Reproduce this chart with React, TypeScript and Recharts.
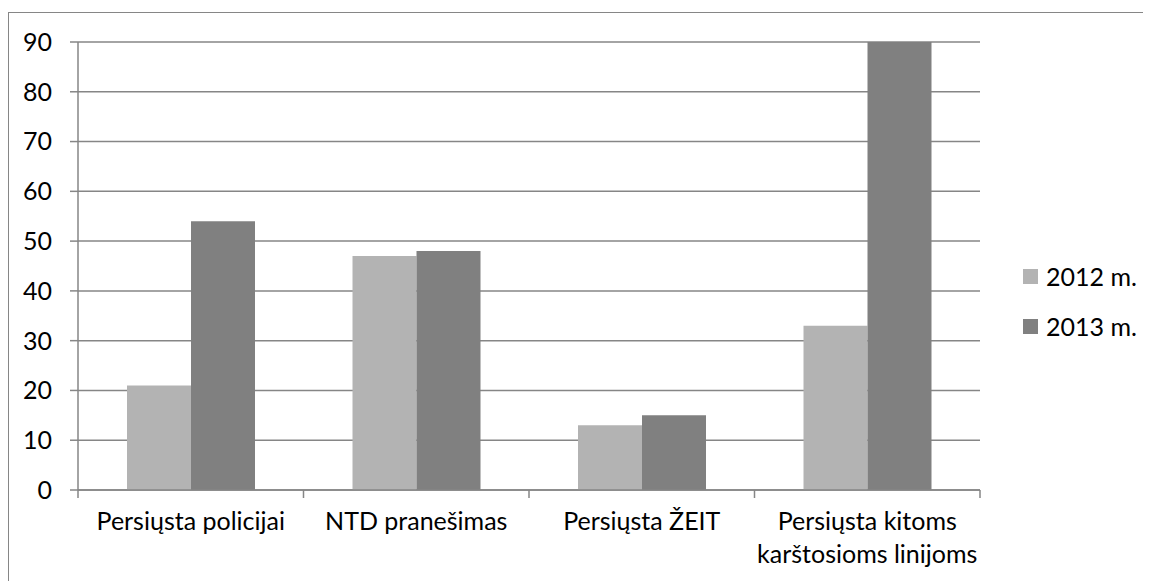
import React from 'react';
import { BarChart, Bar, XAxis, YAxis, CartesianGrid } from 'recharts';

const categories = ['Persiųsta policijai', 'NTD pranešimas', 'Persiųsta ŽEIT', 'Persiųsta kitoms\nkarštosioms linijoms'];
const values2012 = [21, 47, 13, 33];
const values2013 = [54, 48, 15, 90];
const yTicks = [0, 10, 20, 30, 40, 50, 60, 70, 80, 90];
const seriesNames = ['2012 m.', '2013 m.'];

const data = categories.map((name, i) => ({
  name,
  y2012: values2012[i],
  y2013: values2013[i],
}));

const WIDTH = 1142;
const HEIGHT = 568;
const PLOT_LEFT = 69;
const PLOT_RIGHT = 971;
const FONT = 'Lato, "Open Sans", sans-serif';
const FONT_SIZE = 25;
const GRID = '#868686';
const LIGHT = '#b3b3b3';
const DARK = '#808080';

const band = (PLOT_RIGHT - PLOT_LEFT) / categories.length;

const CategoryTick = (props: any) => {
  const { x, y, payload, index } = props;
  const lines = String(payload.value).split('\n');
  return (
    <g>
      <line x1={x - band / 2} x2={x - band / 2} y1={y} y2={y + 8} stroke={GRID} strokeWidth={1.5} />
      {index === categories.length - 1 && (
        <line x1={x + band / 2} x2={x + band / 2} y1={y} y2={y + 8} stroke={GRID} strokeWidth={1.5} />
      )}
      <text textAnchor="middle" fill="#000" fontSize={FONT_SIZE} fontFamily={FONT}>
        {lines.map((l, i) => (
          <tspan key={i} x={x} y={y + 40 + i * 33}>{l}</tspan>
        ))}
      </text>
    </g>
  );
};

export default function App() {
  return (
    <div
      style={{
        position: 'relative',
        marginTop: 4,
        width: WIDTH,
        height: HEIGHT,
        borderTop: `1.5px solid ${GRID}`,
        borderLeft: `1.5px solid ${GRID}`,
        background: '#fff',
      }}
    >
      <BarChart
        width={WIDTH}
        height={HEIGHT}
        data={data}
        margin={{ top: 29, right: WIDTH - PLOT_RIGHT, bottom: 31, left: 0 }}
        barGap={0}
        barSize={64}
      >
        <CartesianGrid vertical={false} stroke={GRID} strokeWidth={1.5} />
        <XAxis
          dataKey="name"
          height={60}
          interval={0}
          tickSize={0}
          tickMargin={0}
          tickLine={false}
          axisLine={{ stroke: GRID, strokeWidth: 1.5 }}
          tick={<CategoryTick />}
        />
        <YAxis
          width={PLOT_LEFT}
          domain={[0, 90]}
          ticks={yTicks}
          interval={0}
          allowDataOverflow
          tickSize={8}
          tickMargin={18}
          tickLine={{ stroke: GRID, strokeWidth: 1.5 }}
          axisLine={{ stroke: GRID, strokeWidth: 1.5 }}
          tick={{ fill: '#000', fontSize: FONT_SIZE, fontFamily: FONT }}
        />
        <Bar dataKey="y2012" name={seriesNames[0]} fill={LIGHT} isAnimationActive={false} />
        <Bar dataKey="y2013" name={seriesNames[1]} fill={DARK} isAnimationActive={false} />
      </BarChart>
      <div
        style={{
          position: 'absolute',
          left: 1014,
          top: 238,
          fontFamily: FONT,
          fontSize: FONT_SIZE,
          color: '#000',
        }}
      >
        {seriesNames.map((n, i) => (
          <div key={n} style={{ display: 'flex', alignItems: 'center', height: 50 }}>
            <span style={{ width: 15, height: 15, background: i === 0 ? LIGHT : DARK, marginRight: 8 }} />
            <span>{n}</span>
          </div>
        ))}
      </div>
    </div>
  );
}
